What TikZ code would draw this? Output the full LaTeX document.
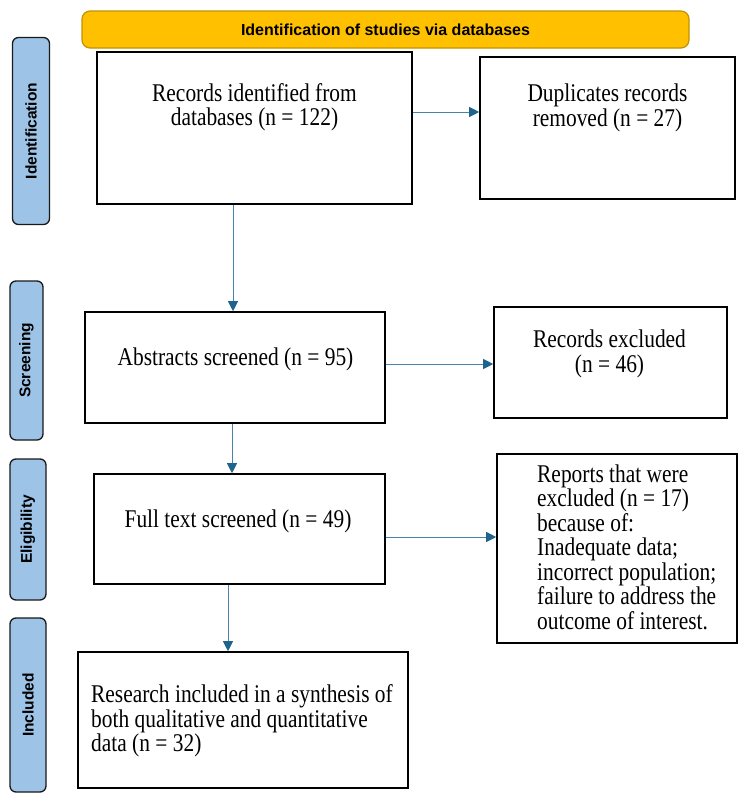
\documentclass[tikz,border=0pt]{standalone}
\usepackage{fontspec}
\setmainfont[FakeStretch=0.84]{Liberation Serif}
\setsansfont{Liberation Sans}
\usetikzlibrary{arrows.meta,positioning}
\definecolor{bannerfill}{HTML}{FFC000}
\definecolor{bannerline}{HTML}{C39200}
\definecolor{phasefill}{HTML}{9DC3E6}
\definecolor{flowline}{HTML}{4A82AA}
\definecolor{flowhead}{HTML}{1F648C}
\begin{document}
\begin{tikzpicture}[x=1pt,y=-1pt,
	box/.style={draw=black,line width=1.6pt,inner sep=0pt},
	banner/.style={draw=bannerline,fill=bannerfill,line width=1.2pt,rounded corners=8pt,font=\sffamily\bfseries\fontsize{16}{19}\selectfont},
	phase/.style={draw=black!90,fill=phasefill,line width=1.3pt,rounded corners=6pt,inner sep=0pt,rotate=90,font=\sffamily\bfseries\fontsize{15.5}{18}\selectfont},
	txt/.style={font=\fontsize{25.5}{24.5}\selectfont,inner sep=0pt,align=center},
	flow/.style={flowline,line width=0.9pt,-{Triangle[length=10pt,width=10pt,color=flowhead]}}]
	\useasboundingbox (0,0) rectangle (750,801);

	% header and phases
	\node [banner,minimum width=607pt,minimum height=37pt] (head) at (385.5,29.5) {Identification of studies via databases};
	\node [phase,minimum width=187pt,minimum height=37pt] (ident) at (31,131) {Identification};
	\node [phase,minimum width=159pt,minimum height=33pt] (screen) at (26.5,360.5) {Screening};
	\node [phase,minimum width=141pt,minimum height=36pt] (elig) at (28,529.5) {Eligibility};
	\node [phase,minimum width=174pt,minimum height=36pt] (incl) at (28,705) {Included};

	% boxes
	\node [box,minimum width=315pt,minimum height=152pt] (records) at (254.5,128) {};
	\node [box,minimum width=255pt,minimum height=142pt] (duplicates) at (607.5,128) {};
	\node [box,minimum width=300pt,minimum height=111pt] (abstracts) at (235,367.5) {};
	\node [box,minimum width=233pt,minimum height=111pt] (excluded) at (610.5,362.5) {};
	\node [box,minimum width=291pt,minimum height=110pt] (fulltext) at (239.5,529) {};
	\node [box,minimum width=240pt,minimum height=189pt] (reports) at (617,548.5) {};
	\node [box,minimum width=330pt,minimum height=136pt] (included) at (243,720) {};

	\node [txt] (recordstxt) at (254.5,107) {Records identified from\\databases (n = 122)};
	\node [txt] (duplicatestxt) at (607.5,108) {Duplicates records\\removed (n = 27)};
	\node [txt] (abstractstxt) at (235.5,359) {Abstracts screened (n = 95)};
	\node [txt] (excludedtxt) at (609.5,354) {Records excluded\\(n = 46)};
	\node [txt] (fulltexttxt) at (238,521) {Full text screened (n = 49)};
	\node [txt,align=left,anchor=west] (reportstxt) at (537,547) {Reports that were\\excluded (n = 17)\\because of:\\Inadequate data;\\incorrect population;\\failure to address the\\outcome of interest.};
	\node [txt,align=left,anchor=west] (includedtxt) at (91,721) {Research included in a synthesis of\\both qualitative and quantitative\\data (n = 32)};

	% arrows
	\draw [flow] ([yshift=16pt]records.east) -- ([yshift=16pt]records.east -| duplicates.west);
	\draw [flow] ([xshift=-21.5pt]records.south) -- ([xshift=-21.5pt]records.south |- abstracts.north);
	\draw [flow] ([yshift=3.5pt]abstracts.east) -- ([yshift=3.5pt]abstracts.east -| excluded.west);
	\draw [flow] ([xshift=-3pt]abstracts.south) -- ([xshift=-3pt]abstracts.south |- fulltext.north);
	\draw [flow] ([yshift=-8pt]fulltext.east) -- ([yshift=-8pt]fulltext.east -| reports.west);
	\draw [flow] ([xshift=-11.5pt]fulltext.south) -- ([xshift=-11.5pt]fulltext.south |- included.north);
\end{tikzpicture}
\end{document}
